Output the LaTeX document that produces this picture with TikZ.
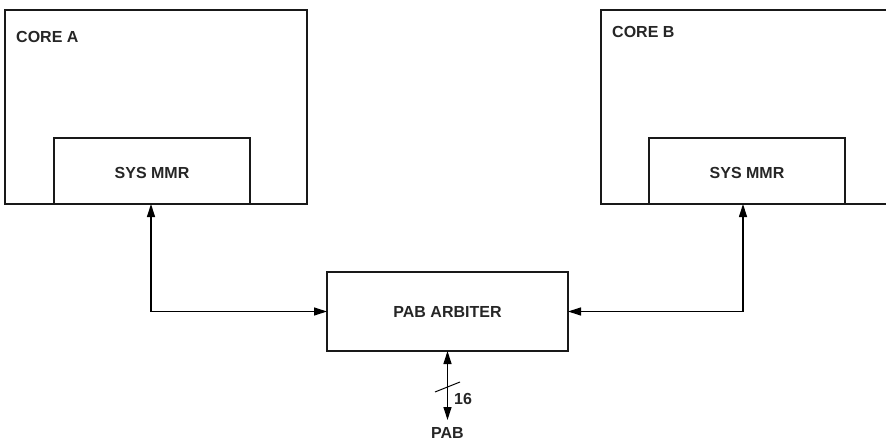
\documentclass[tikz,border=0pt]{standalone}
\usepackage{fontspec}
\setmainfont{Liberation Sans}
\usetikzlibrary{arrows.meta}
\begin{document}
\begin{tikzpicture}[x=1pt,y=-1pt,
  box/.style={draw=black!90,line width=1.3pt,fill=white,inner sep=0pt,outer sep=0pt},
  lbl/.style={font=\fontsize{16}{18}\selectfont\bfseries,text=black!85,inner sep=0pt},
  dbl/.style={line width=1.2pt,{Triangle[length=13pt,width=8pt]}-{Triangle[length=13pt,width=8pt]}}]
\useasboundingbox (0,0) rectangle (886,441);
\node[box,minimum width=302pt,minimum height=194pt] (coreA) at (156,107) {};
\node[lbl,anchor=west] (coreAl) at (16,37) {CORE A};
\node[box,minimum width=196pt,minimum height=66pt] (sysA) at (152,171) {};
\node[lbl] (sysAl) at (152,173) {SYS MMR};
\node[box,minimum width=289pt,minimum height=194pt] (coreB) at (745.5,107) {};
\node[lbl,anchor=west] (coreBl) at (612,32) {CORE B};
\node[box,minimum width=196pt,minimum height=66pt] (sysB) at (747,171) {};
\node[lbl] (sysBl) at (747,172.5) {SYS MMR};
\node[box,minimum width=241pt,minimum height=79pt] (arb) at (447.5,311.5) {};
\node[lbl] (arbl) at (447.5,312) {PAB ARBITER};
\coordinate (pabend) at (447.5,420);
\draw[dbl] ([xshift=-1pt]sysA.south) |- (arb.west);
\draw[dbl] ([xshift=-4pt]sysB.south) |- (arb.east);
\draw[dbl] (arb.south) -- (pabend);
\coordinate (s1) at (435,392);
\coordinate (s2) at (460,382);
\draw[line width=1pt] (s1) -- (s2);
\node[lbl,anchor=west] (w16) at (454,399) {16};
\node[lbl] (pab) at (447.5,433) {PAB};
\end{tikzpicture}
\end{document}
